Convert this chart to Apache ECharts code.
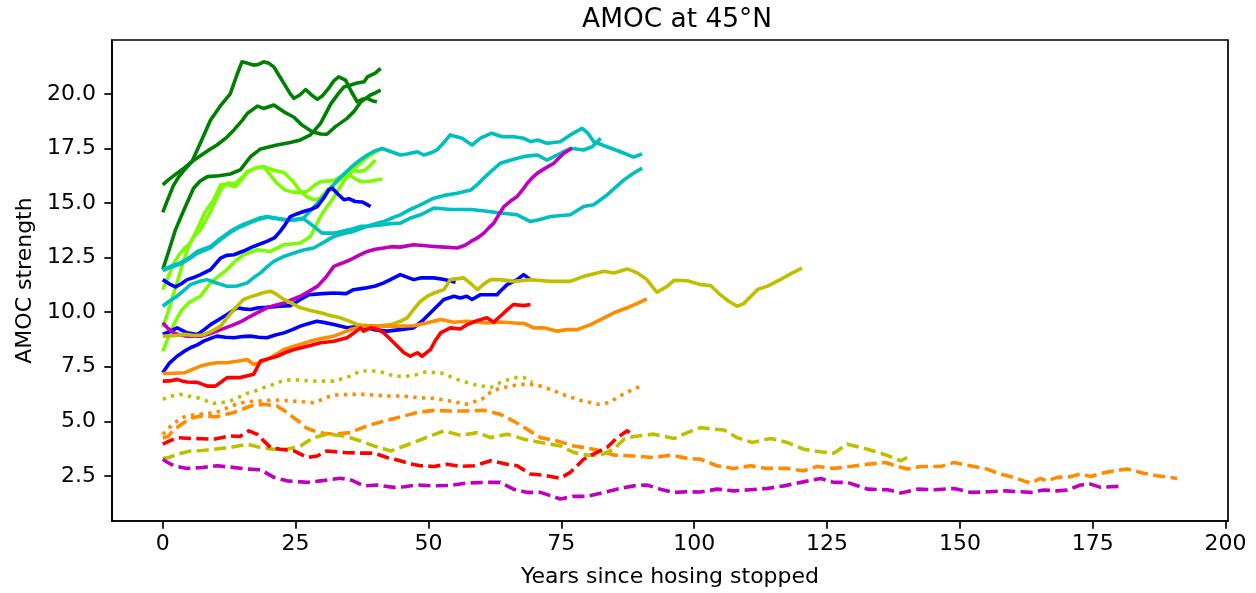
<!DOCTYPE html>
<html>
<head>
<meta charset="utf-8">
<title>AMOC at 45°N</title>
<script src="https://cdn.jsdelivr.net/npm/echarts@6/dist/echarts.min.js"></script>
<style>
  html, body { margin: 0; padding: 0; background: #fff; }
  #chart { width: 1256px; height: 593px; }
</style>
</head>
<body>
<div id="chart"></div>
<script>
// Tick positions
const xTicks = [0, 25, 50, 75, 100, 125, 150, 175, 200];
const yTicks = [2.5, 5.0, 7.5, 10.0, 12.5, 15.0, 17.5, 20.0];

// AMOC recovery runs: [years since hosing stopped, AMOC strength]
const darkGreenA = [[0,14.57],[1,15.2],[2,15.8],[3,16.2],[4,16.5],[5.5,16.9],[7,17.7],[9,18.8],[11,19.5],[12.7,20.0],[14,20.9],[14.9,21.47],[16,21.4],[17.1,21.32],[18,21.35],[19,21.47],[20,21.4],[20.9,21.24],[22,20.8],[22.8,20.48],[24,20.0],[24.7,19.8],[25.8,19.95],[26.9,20.2],[28,19.95],[29.1,19.75],[30,19.9],[31.2,20.25],[32.2,20.6],[33.1,20.78],[34.4,20.63],[35.5,20.1],[36.6,19.64],[37.5,19.75],[38.5,19.8],[39.5,19.68],[40.3,19.64]];
const darkGreenB = [[0,15.83],[1,16.05],[2.7,16.37],[4,16.6],[5.5,16.9],[7,17.15],[8.5,17.4],[10.2,17.66],[12,18.0],[13.4,18.35],[15,18.8],[15.9,19.1],[17.8,19.44],[19,19.33],[20.9,19.49],[22.8,19.18],[24.7,18.93],[26.2,18.57],[28.1,18.27],[29.7,18.16],[30.9,18.15],[32.5,18.5],[34.7,18.88],[36,19.2],[37.3,19.64],[39.1,19.95],[40,20.05],[41,20.17]];
const darkGreenC = [[0,11.95],[1,12.7],[2.4,13.78],[4,14.69],[5.8,15.68],[7,16.0],[8.4,16.21],[10.6,16.25],[12.7,16.33],[14.6,16.52],[16.5,17.12],[18.4,17.48],[21.5,17.66],[24,17.77],[25.9,17.89],[27.8,18.12],[29.7,18.65],[31.6,19.53],[33,20.0],[34.1,20.32],[36.6,20.5],[37.9,20.56],[38.5,20.78],[40,20.95],[41,21.17]];

const lightGreenA = [[0,11.03],[1,11.6],[2,12.2],[3,12.6],[4,12.9],[5.2,13.17],[6.5,13.8],[8,14.6],[9.6,15.15],[10.9,15.83],[12,15.85],[13.7,15.75],[15,16.1],[15.9,16.44],[17.5,16.6],[19,16.67],[20.2,16.3],[21.5,15.9],[23,15.6],[24.5,15.5],[26,15.5],[27.2,15.53],[28.5,15.8],[29.7,15.98],[32.2,16.03],[34.7,16.37],[36,16.15],[37.2,15.98],[39,16.0],[41.3,16.1]];
const lightGreenB = [[0,9.3],[1,10.0],[2,10.8],[3,11.6],[4,12.4],[5,13.1],[6,13.5],[7.1,13.78],[9,14.61],[10.9,15.6],[12,15.9],[13.7,15.9],[15.9,16.4],[17.5,16.6],[19,16.67],[20.9,16.5],[22.8,16.4],[24.5,16.0],[25.9,15.53],[27,15.3],[28.4,15.15],[29.5,15.2],[31,15.6],[32.5,15.9],[34,16.2],[35.5,16.5],[37,16.45],[38,16.5],[39,16.7],[40,16.97]];
const lightGreenC = [[0,8.21],[1,8.8],[2.2,9.5],[3.6,10.1],[5,10.45],[7.1,10.73],[9,11.34],[10.5,11.65],[12.1,11.95],[13.5,12.3],[15.2,12.63],[17.8,12.86],[20.3,12.78],[22.8,13.09],[25.9,13.17],[27.8,13.47],[28.7,13.9],[29.7,14.38],[30.8,14.8],[31.9,15.15],[33,15.6],[34.7,16.2],[36.5,16.7],[38,17.0],[39.7,17.3],[41.3,17.5]];

const cyanA = [[0,11.95],[1.5,12.1],[3.3,12.25],[5,12.5],[6.5,12.78],[9,13.01],[11,13.4],[12.7,13.7],[14.5,13.95],[16.5,14.15],[18,14.3],[19.6,14.38],[21.5,14.3],[23.4,14.23],[25,14.25],[26.5,14.31],[28,14.7],[29.5,15.1],[31,15.5],[32.5,15.95],[34,16.3],[35.5,16.65],[37,16.95],[38.5,17.2],[40,17.4],[41.3,17.5],[43,17.35],[44.7,17.2],[46,17.25],[47.9,17.35],[49.1,17.2],[50.5,17.3],[51.6,17.43],[53,17.8],[54.1,18.12],[56.3,17.97],[58.2,17.66],[59.8,17.97],[61.9,18.2],[63.9,18.04],[66,18.04],[67.9,17.97],[69.2,17.81],[70.5,17.89],[72.3,17.74],[74.8,17.81],[76.7,18.12],[78.9,18.42],[80,18.2],[81.1,17.81],[83.6,17.58],[86.1,17.35],[88.6,17.1],[90.2,17.25]];
const cyanB = [[0,10.27],[1.2,10.5],[2.7,10.73],[4,11.0],[5.2,11.26],[6.8,11.4],[8.3,11.49],[10,11.35],[12.1,11.18],[14,11.2],[15.9,11.34],[17.2,11.6],[18.4,11.8],[19.5,12.05],[20.9,12.33],[22.8,12.55],[24.7,12.71],[26.5,12.85],[28.4,12.94],[30.3,13.2],[32.2,13.47],[34,13.6],[35.9,13.7],[38,13.9],[40,14.05],[41.6,14.15],[43,14.3],[44.7,14.46],[46.5,14.7],[48.5,14.92],[51,15.22],[53,15.35],[55.4,15.45],[58,15.6],[59.2,15.85],[60.4,16.14],[62,16.5],[63.5,16.82],[66.7,17.05],[68.5,17.15],[70.5,17.2],[72.3,16.97],[74.2,17.2],[76.7,17.51],[79.2,17.43],[80.8,17.58],[82.4,17.97]];
const cyanC = [[0,11.9],[1.5,12.05],[3.3,12.2],[5,12.45],[6.5,12.7],[9,12.95],[11,13.35],[12.7,13.65],[14.5,13.9],[16.5,14.1],[18,14.25],[19.6,14.35],[21.5,14.28],[23.4,14.2],[25,14.22],[26.5,14.28],[27.5,14.1],[28.4,13.93],[30,13.62],[32.2,13.62],[34,13.72],[35.5,13.8],[37.2,13.93],[39,13.95],[41,14.0],[42.8,14.05],[44.7,14.08],[46.5,14.3],[48.5,14.46],[51,14.77],[54.2,14.7],[58,14.7],[61,14.62],[63.5,14.54],[66.7,14.46],[69.2,14.15],[71,14.25],[73,14.38],[76.7,14.46],[79.2,14.84],[81.1,14.92],[83.6,15.37],[86.8,16.06],[88.5,16.35],[90.2,16.6]];

const blueA = [[0,11.49],[1.2,11.3],[2.4,11.16],[3.5,11.3],[4.6,11.49],[6,11.6],[7.1,11.72],[9,11.95],[10.9,12.48],[12,12.6],[13.4,12.63],[15.2,12.8],[17.1,13.01],[19.6,13.24],[21,13.4],[22.1,13.7],[23,14.0],[24,14.38],[25.2,14.5],[26.5,14.61],[27.8,14.7],[29.1,14.84],[30.5,15.3],[31.2,15.6],[31.9,15.68],[33,15.4],[34.1,15.15],[35,15.2],[36.2,15.07],[37.5,15.05],[38.3,14.95],[39.1,14.84]];
const blueB = [[0,8.98],[1.2,9.1],[2.7,9.28],[4.6,9.05],[6.5,8.98],[7.8,9.2],[9,9.43],[10.5,9.65],[12.1,9.89],[14,10.2],[15.2,10.15],[16.5,10.12],[18,10.2],[19.5,10.22],[22.1,10.27],[24,10.3],[25.9,10.58],[27.5,10.8],[30,10.85],[32.2,10.88],[34.5,10.85],[35.9,11.03],[38,11.1],[40,11.2],[41.6,11.34],[43.3,11.55],[44.7,11.72],[47.2,11.49],[48.5,11.57],[51,11.57],[53,11.5],[55.1,11.37]];
const blueC = [[0,7.22],[1.2,7.65],[2.7,7.98],[4,8.2],[5.2,8.37],[6.5,8.5],[7.7,8.67],[9,8.8],[10.2,8.9],[11.8,8.85],[13.4,8.83],[15,8.88],[16.5,8.9],[18,8.85],[19.6,8.83],[21.2,8.95],[22.8,9.05],[24.4,9.2],[25.9,9.36],[27.5,9.48],[29,9.58],[30.5,9.52],[32.2,9.43],[34.7,9.28],[37.2,9.35],[39.7,9.2],[42.2,9.13],[44.7,9.2],[47.2,9.28],[49.1,9.66],[51,10.12],[52.9,10.58],[54.8,10.73],[56,10.65],[57.2,10.73],[58.2,10.58],[59.8,10.8],[62.9,10.8],[63.5,10.96],[64.8,11.26],[66.7,11.49],[67.9,11.72],[69.2,11.49]];

const magentaSolid = [[0,9.51],[1,9.25],[2.1,9.05],[3.3,8.95],[4.6,8.9],[7.1,8.9],[8.7,9.0],[10.2,9.13],[11.8,9.28],[13.4,9.43],[15,9.6],[16.5,9.81],[18,10.0],[19.6,10.2],[21.2,10.32],[22.8,10.42],[24.4,10.58],[25.9,10.73],[27.5,10.95],[29.1,11.18],[30.7,11.6],[32.2,12.1],[33.8,12.25],[35.3,12.4],[36.9,12.6],[38.5,12.78],[40,12.88],[41.6,12.94],[43,13.0],[44.7,12.98],[47.2,13.09],[49,13.05],[51,13.01],[53,12.98],[55.4,12.94],[56.8,13.05],[58,13.24],[59.2,13.4],[60.4,13.62],[61.3,13.85],[62.3,14.08],[63.2,14.45],[64.2,14.84],[65.5,15.1],[66.7,15.3],[67.7,15.6],[68.6,15.91],[69.5,16.15],[70.5,16.37],[72,16.6],[73.6,16.82],[74.5,17.05],[75.5,17.28],[77,17.51]];
const oliveSolid = [[0,8.9],[2,8.92],[4.1,8.98],[6,8.93],[7.5,8.95],[9,9.1],[10.9,9.36],[12,9.7],[13.4,10.12],[15.2,10.58],[16.5,10.7],[17.8,10.8],[19,10.9],[20.3,10.96],[21.5,10.8],[22.8,10.58],[24.3,10.4],[25.9,10.2],[27.8,10.08],[29.7,9.97],[31.5,9.85],[33.4,9.74],[35,9.6],[36.6,9.43],[39.1,9.36],[41,9.38],[42.9,9.43],[44.7,9.58],[46,9.74],[47.2,10.12],[48.5,10.5],[49.8,10.73],[51.3,10.9],[52.9,11.03],[54.1,11.49],[56.6,11.57],[58,11.3],[59.2,11.03],[60.5,11.3],[61.7,11.49],[63.5,11.49],[66.1,11.41],[69.2,11.49],[71,11.45],[73,11.41],[76.7,11.41],[79.2,11.64],[81,11.75],[83,11.87],[84.9,11.79],[87.4,11.98],[89.3,11.8],[91.1,11.49],[92,11.2],[93,10.91],[94.9,11.18],[96.2,11.46],[98.7,11.44],[101.2,11.26],[103.1,11.22],[104.9,10.8],[106.5,10.5],[108.1,10.27],[109.3,10.39],[111.2,10.85],[112,11.05],[113.7,11.18],[116.2,11.49],[118.1,11.75],[120.3,12.02]];
const orangeSolid = [[0,7.19],[2,7.2],[4.1,7.22],[5.6,7.38],[7.1,7.53],[8.7,7.62],[10.2,7.68],[12,7.68],[14,7.75],[15.9,7.83],[17.1,7.6],[18.3,7.7],[19.6,7.83],[21.2,8.05],[22.8,8.29],[24.4,8.42],[25.9,8.52],[27.5,8.65],[29,8.75],[30.6,8.83],[32.2,8.9],[33.8,9.05],[35.3,9.2],[36.9,9.3],[38.5,9.39],[41.6,9.36],[44.7,9.36],[47.2,9.38],[49.8,9.51],[52.3,9.66],[54.8,9.54],[57.2,9.58],[61,9.51],[63.5,9.55],[66.1,9.5],[68,9.48],[69.8,9.28],[71.7,9.28],[74.2,9.13],[76.1,9.2],[78,9.2],[80.5,9.43],[82.4,9.66],[84.9,9.97],[87.4,10.2],[89.3,10.4],[91.1,10.61]];
const redSolid = [[0,6.84],[1.3,6.85],[2.7,6.92],[3.6,6.85],[4.6,6.8],[6.5,6.78],[8.4,6.61],[9.9,6.61],[11,6.8],[12.1,7.0],[14.6,7.0],[17.1,7.15],[18.4,7.76],[20,7.87],[21.5,7.98],[23.1,8.15],[24.7,8.29],[27.2,8.44],[29.7,8.6],[32.2,8.67],[34.7,8.83],[36,9.05],[37.2,9.28],[37.8,9.13],[39.1,9.28],[40.5,9.2],[41.6,9.05],[43.5,8.6],[45.4,8.14],[46.6,7.98],[47.9,8.14],[48.8,7.98],[50.4,8.29],[51.3,8.7],[52.3,9.05],[54.1,9.28],[56,9.23],[57.3,9.43],[59,9.6],[61,9.74],[62.3,9.54],[63.5,9.81],[64.8,10.1],[66,10.35],[67.9,10.3],[69.2,10.35]];

const oliveDotted = [[0,6.0],[1.5,6.15],[3.3,6.23],[5,6.15],[6.5,6.08],[8,5.95],[9.6,5.82],[11,5.85],[12.7,5.93],[14.3,6.1],[15.9,6.28],[17.5,6.4],[19,6.54],[21,6.7],[22.8,6.88],[25,6.9],[27,6.86],[29,6.84],[32.2,6.84],[33.8,6.95],[35.3,7.07],[37.2,7.3],[40.3,7.3],[42,7.2],[43.5,7.07],[45.5,7.05],[47.5,7.12],[49.4,7.26],[52.3,7.22],[55.4,6.92],[58.5,6.69],[61.7,6.54],[63.5,6.77],[66.1,7.0],[68,7.0],[69.5,6.8]];
const orangeDotted = [[0,4.4],[2,4.9],[4,5.2],[6,5.3],[8,5.35],[10,5.4],[12,5.6],[14,5.8],[16,5.9],[18.4,5.93],[21,5.98],[23,5.95],[26,5.9],[28.4,5.85],[30,6.0],[32,6.2],[35,6.23],[38,6.23],[42,6.16],[45,6.16],[48,6.08],[51,6.05],[54,5.93],[57,5.78],[60,6.0],[62,6.39],[64,6.54],[67,6.69],[70,6.69],[73,6.46],[76,6.16],[79,5.93],[82,5.78],[84,5.85],[86,6.16],[88,6.4],[90,6.61]];

const orangeDashed = [[0,4.25],[1,4.3],[2,4.6],[4,4.94],[5.5,5.15],[7.1,5.24],[10.2,5.21],[13.4,5.4],[15,5.55],[16.5,5.7],[19,5.78],[21.5,5.7],[23.4,5.4],[24.7,5.15],[25.9,4.94],[27,4.7],[28.4,4.56],[30.3,4.45],[32.2,4.41],[35.3,4.48],[37,4.65],[38.5,4.79],[41.6,5.01],[44.7,5.2],[47.9,5.4],[51,5.5],[54.1,5.47],[57.2,5.47],[60.4,5.5],[63.5,5.32],[66,5.01],[68.6,4.63],[71.1,4.25],[74.2,4.1],[77.3,3.87],[81.1,3.72],[84.9,3.45],[88.6,3.41],[92.4,3.34],[95.6,3.45],[98.7,3.3],[101.2,3.26],[104.3,2.96],[107.4,2.84],[110.6,2.96],[113.7,2.84],[117.4,2.84],[120.6,2.73],[123.1,2.93],[126.3,2.84],[129.4,2.93],[132.6,3.03],[136,3.11],[138.2,2.93],[140.1,2.81],[142.6,2.93],[146.4,2.93],[148.9,3.11],[152.6,2.93],[155.1,2.81],[157.6,2.58],[160.1,2.43],[162,2.27],[163.3,2.17],[165.2,2.38],[166.4,2.27],[168.3,2.43],[170.5,2.45],[172.7,2.58],[174.6,2.47],[176.5,2.61],[179,2.73],[181.5,2.81],[184.6,2.62],[187.1,2.5],[189,2.45],[190.9,2.38]];
const oliveDashed = [[0,3.29],[1.3,3.35],[2.7,3.49],[5.2,3.64],[7.5,3.66],[9.6,3.72],[12.7,3.8],[15.9,3.95],[18.4,3.8],[20.9,3.72],[23.4,3.72],[25.9,3.87],[28.4,4.25],[30.9,4.41],[34.1,4.33],[37.2,4.1],[39.7,3.87],[42.9,3.64],[44.7,3.8],[47.2,4.03],[50.4,4.33],[52.9,4.56],[56,4.36],[59.2,4.48],[61.7,4.25],[64.8,4.41],[68,4.18],[71.1,4.03],[74.9,3.87],[77.3,3.57],[79.9,3.45],[82.4,3.45],[84.9,3.72],[86.8,4.18],[88.6,4.3],[92.4,4.41],[96.2,4.21],[98.7,4.48],[101.2,4.71],[103,4.65],[105.6,4.6],[108.1,4.25],[110.9,4.03],[114.4,4.21],[117.5,4.03],[120.6,3.72],[123.8,3.6],[126.3,3.54],[128.8,3.95],[132.6,3.72],[135.7,3.49],[138.9,3.19],[140.1,3.34]];
const redDashed = [[0,3.95],[1.3,4.1],[2.7,4.25],[5.2,4.21],[7.4,4.2],[9.6,4.18],[12.7,4.33],[14.5,4.3],[16.2,4.56],[17.8,4.4],[19,4.1],[20.3,3.8],[22.1,3.72],[24.7,3.64],[27.2,3.34],[29.1,3.41],[30.9,3.64],[34.1,3.57],[37.2,3.54],[39.7,3.54],[42.2,3.34],[44.7,3.19],[46.5,3.05],[48.5,2.96],[51,2.93],[53.5,3.03],[56,2.93],[58.6,2.96],[61.7,3.19],[64.8,3.03],[66.7,2.96],[69.2,2.58],[71.7,2.53],[74.8,2.39],[76.7,2.66],[79.2,3.26],[81.7,3.57],[83.6,3.8],[85.5,4.25],[87.4,4.56],[88.6,4.36]];
const magentaDashed = [[0,3.26],[1,3.1],[2.1,2.96],[4.6,2.84],[7.4,2.88],[10.2,2.96],[12.7,2.9],[15.9,2.81],[18.4,2.78],[20.9,2.43],[23.4,2.27],[27.2,2.2],[29.7,2.27],[33.4,2.39],[35.5,2.3],[37.8,2.04],[40.3,2.08],[43.5,1.97],[45.5,2.0],[47.9,2.08],[51,2.04],[54.1,2.06],[57.3,2.17],[61,2.2],[63.5,2.2],[66,1.89],[68.6,1.74],[71.1,1.74],[74.8,1.44],[77.3,1.56],[79.9,1.56],[83,1.74],[85.5,1.89],[88.6,2.04],[91.1,2.08],[93.6,1.89],[96.2,1.74],[98.7,1.77],[101.2,1.76],[104.3,1.89],[107.4,1.81],[110.6,1.86],[113.7,1.92],[116.9,2.04],[120.1,2.2],[123.8,2.38],[126.3,2.2],[128.8,2.2],[132.6,1.89],[136.4,1.86],[138.9,1.71],[142,1.89],[145.2,1.86],[148.9,1.92],[152,1.74],[155.7,1.77],[158.6,1.81],[161.5,1.77],[163.3,1.74],[165.8,1.85],[168.3,1.81],[170.2,1.85],[172.7,2.08],[174.6,2.12],[176.5,1.97],[178.4,2.0],[180.2,2.02]];

// Colours and line styles
const C = {
  green: '#008000', lime: '#7cfc00', cyan: '#00bfbf', blue: '#0000ff',
  magenta: '#bf00bf', olive: '#bfbf00', orange: '#ff8c00', red: '#ff0000'
};
const LW = 3.6;
const DASHED = [12.2, 5.3];
const DOTTED = [3.4, 5.3];

const runs = [
  [darkGreenA, C.green, 'solid'],
  [darkGreenB, C.green, 'solid'],
  [darkGreenC, C.green, 'solid'],
  [lightGreenA, C.lime, 'solid'],
  [lightGreenB, C.lime, 'solid'],
  [lightGreenC, C.lime, 'solid'],
  [cyanA, C.cyan, 'solid'],
  [cyanB, C.cyan, 'solid'],
  [cyanC, C.cyan, 'solid'],
  [blueA, C.blue, 'solid'],
  [blueB, C.blue, 'solid'],
  [blueC, C.blue, 'solid'],
  [magentaSolid, C.magenta, 'solid'],
  [oliveSolid, C.olive, 'solid'],
  [orangeSolid, C.orange, 'solid'],
  [redSolid, C.red, 'solid'],
  [oliveDotted, C.olive, DOTTED],
  [orangeDotted, C.orange, DOTTED],
  [orangeDashed, C.orange, DASHED],
  [oliveDashed, C.olive, DASHED],
  [redDashed, C.red, DASHED],
  [magentaDashed, C.magenta, DASHED]
];

const FONT = 'DejaVu Sans';

const chart = echarts.init(document.getElementById('chart'), null, { renderer: 'canvas' });
chart.setOption({
  animation: false,
  backgroundColor: '#ffffff',
  title: {
    text: 'AMOC at 45°N',
    left: 672,
    textAlign: 'center',
    top: 2,
    textStyle: { fontFamily: FONT, fontSize: 26.4, fontWeight: 'normal', color: '#000' }
  },
  grid: {
    left: 112, right: 28, top: 40, bottom: 71,
    show: true, borderColor: '#000', borderWidth: 1.7, backgroundColor: 'transparent'
  },
  xAxis: {
    type: 'value',
    min: -9.55, max: 200.45,
    name: 'Years since hosing stopped',
    nameLocation: 'middle',
    nameGap: 45,
    nameTextStyle: { fontFamily: FONT, fontSize: 22, color: '#000' },
    axisLine: { show: true, onZero: false, lineStyle: { color: '#000', width: 1.7 } },
    axisTick: { show: true, inside: false, length: 7.7, customValues: xTicks, lineStyle: { color: '#000', width: 1.7 } },
    axisLabel: { customValues: xTicks, margin: 12, fontFamily: FONT, fontSize: 22, color: '#000',
      formatter: v => String(Math.round(v)) },
    splitLine: { show: false }
  },
  yAxis: {
    type: 'value',
    min: 0.43, max: 22.47,
    name: 'AMOC strength',
    nameLocation: 'middle',
    nameGap: 75,
    nameTextStyle: { fontFamily: FONT, fontSize: 22, color: '#000' },
    axisLine: { show: true, onZero: false, lineStyle: { color: '#000', width: 1.7 } },
    axisTick: { show: true, inside: false, length: 7.7, customValues: yTicks, lineStyle: { color: '#000', width: 1.7 } },
    axisLabel: { customValues: yTicks, margin: 16, fontFamily: FONT, fontSize: 22, color: '#000',
      formatter: v => v.toFixed(1) },
    splitLine: { show: false }
  },
  series: runs.map(([data, color, type]) => ({
    type: 'line',
    data: data,
    showSymbol: false,
    symbol: 'none',
    clip: true,
    silent: true,
    lineStyle: { color: color, width: LW, type: type, cap: 'butt', join: 'round' }
  }))
});
</script>
</body>
</html>
